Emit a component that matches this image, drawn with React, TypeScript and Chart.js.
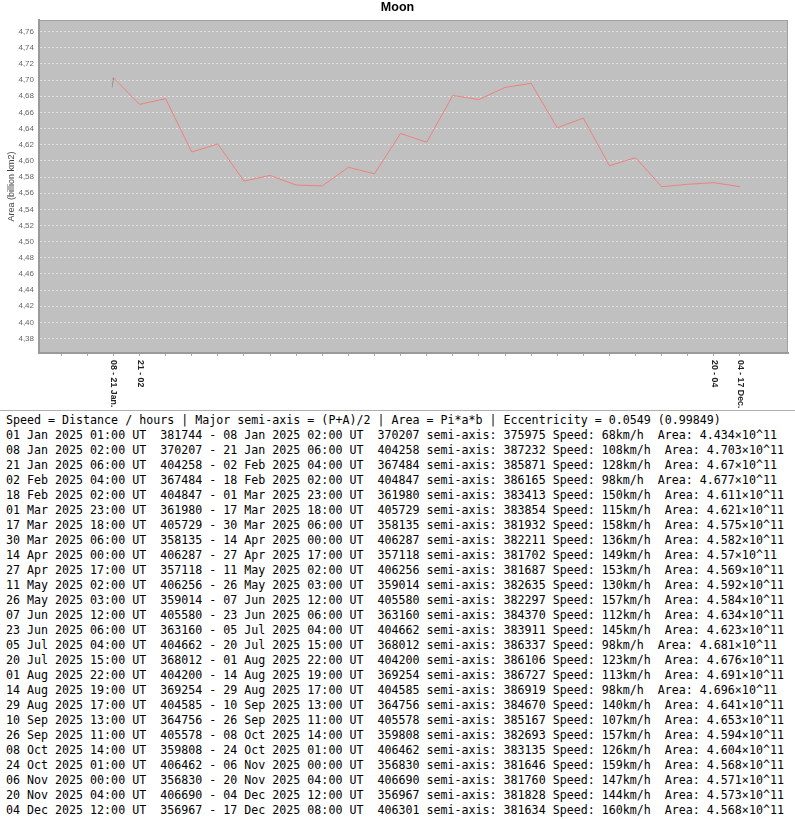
import React, { useEffect, useRef } from "react";
import { Chart, registerables } from "chart.js";

Chart.register(...registerables);

// ---- data ----
const dates = [
  "01 Jan 2025 01:00 UT", "08 Jan 2025 02:00 UT", "21 Jan 2025 06:00 UT", "02 Feb 2025 04:00 UT",
  "18 Feb 2025 02:00 UT", "01 Mar 2025 23:00 UT", "17 Mar 2025 18:00 UT", "30 Mar 2025 06:00 UT",
  "14 Apr 2025 00:00 UT", "27 Apr 2025 17:00 UT", "11 May 2025 02:00 UT", "26 May 2025 03:00 UT",
  "07 Jun 2025 12:00 UT", "23 Jun 2025 06:00 UT", "05 Jul 2025 04:00 UT", "20 Jul 2025 15:00 UT",
  "01 Aug 2025 22:00 UT", "14 Aug 2025 19:00 UT", "29 Aug 2025 17:00 UT", "10 Sep 2025 13:00 UT",
  "26 Sep 2025 11:00 UT", "08 Oct 2025 14:00 UT", "24 Oct 2025 01:00 UT", "06 Nov 2025 00:00 UT",
  "20 Nov 2025 04:00 UT", "04 Dec 2025 12:00 UT", "17 Dec 2025 08:00 UT",
];
const distances = [
  381744, 370207, 404258, 367484, 404847, 361980, 405729, 358135, 406287, 357118, 406256, 359014,
  405580, 363160, 404662, 368012, 404200, 369254, 404585, 364756, 405578, 359808, 406462, 356830,
  406690, 356967, 406301,
];
const semiAxes = [
  375975, 387232, 385871, 386165, 383413, 383854, 381932, 382211, 381702, 381687, 382635, 382297,
  384370, 383911, 386337, 386106, 386727, 386919, 384670, 385167, 382693, 383135, 381646, 381760,
  381828, 381634,
];
const speeds = [
  68, 108, 128, 98, 150, 115, 158, 136, 149, 153, 130, 157, 112, 145, 98, 123, 113, 98, 140, 107,
  157, 126, 159, 147, 144, 160,
];
const areas = [
  4.434, 4.703, 4.67, 4.677, 4.611, 4.621, 4.575, 4.582, 4.57, 4.569, 4.592, 4.584, 4.634, 4.623,
  4.681, 4.676, 4.691, 4.696, 4.641, 4.653, 4.594, 4.604, 4.568, 4.571, 4.573, 4.568,
];
const areaStrings = [
  "4.434", "4.703", "4.67", "4.677", "4.611", "4.621", "4.575", "4.582", "4.57", "4.569", "4.592",
  "4.584", "4.634", "4.623", "4.681", "4.676", "4.691", "4.696", "4.641", "4.653", "4.594", "4.604",
  "4.568", "4.571", "4.573", "4.568",
];
const xTickLabels = [
  "", "08 - 21 Jan.", "21 - 02", "", "", "", "", "", "", "", "", "", "", "", "", "", "", "", "", "",
  "", "", "", "", "20 - 04", "04 - 17 Dec.",
];
const xTickPositions = [
  -1, 0, 1, 2, 3, 4, 5, 6, 7, 8, 9, 10, 11, 12, 13, 14, 15, 16, 17, 18, 19, 20, 21, 22, 23, 24, 25,
];
const yTicks = [
  4.38, 4.4, 4.42, 4.44, 4.46, 4.48, 4.5, 4.52, 4.54, 4.56, 4.58, 4.6, 4.62, 4.64, 4.66, 4.68, 4.7,
  4.72, 4.74, 4.76,
];
const headerText =
  "Speed = Distance / hours | Major semi-axis = (P+A)/2 | Area = Pi*a*b | Eccentricity = 0.0549 (0.99849)";
const chartTitle = "Moon";
const yAxisTitle = "Area (billion km2)";

const rows = areas.map(
  (_, i) =>
    `${dates[i]}  ${distances[i]} - ${dates[i + 1]}  ${distances[i + 1]} semi-axis: ${semiAxes[i]} Speed: ${speeds[i]}km/h  Area: ${areaStrings[i]}\u00d710^11`
);

export default function App() {
  const canvasRef = useRef<HTMLCanvasElement | null>(null);

  useEffect(() => {
    document.body.style.margin = "0";
    document.documentElement.style.overflow = "hidden";
    const canvas = canvasRef.current!;
    const c2d = canvas.getContext("2d")!;

    const bgPlugin = {
      id: "bg",
      beforeDraw(chart: any) {
        const { ctx, chartArea: a } = chart;
        ctx.save();
        ctx.fillStyle = "#c0c0c0";
        ctx.fillRect(a.left, a.top, a.right - a.left, a.bottom - a.top);
        ctx.restore();
      },
      afterDraw(chart: any) {
        const { ctx, chartArea: a } = chart;
        ctx.save();
        ctx.strokeStyle = "#a0a0a0";
        ctx.lineWidth = 1;
        ctx.beginPath();
        ctx.moveTo(a.left, a.top + 0.5);
        ctx.lineTo(a.right - 0.5, a.top + 0.5);
        ctx.lineTo(a.right - 0.5, a.bottom);
        ctx.stroke();

        // title
        ctx.fillStyle = "#000";
        ctx.font = "bold 12.5px 'Liberation Sans', Arial, sans-serif";
        ctx.textAlign = "center";
        ctx.textBaseline = "middle";
        ctx.fillText(chartTitle, chart.width / 2, 8);

        // y title
        ctx.save();
        ctx.translate(12, (a.top + a.bottom) / 2);
        ctx.rotate(-Math.PI / 2);
        ctx.fillStyle = "#444";
        ctx.font = "9px 'Liberation Sans', Arial, sans-serif";
        ctx.textAlign = "center";
        ctx.textBaseline = "middle";
        ctx.fillText(yAxisTitle, 0, 0);
        ctx.restore();

        // x labels (rotated clockwise)
        const xs = chart.scales.x;
        ctx.fillStyle = "#222";
        ctx.font = "bold 8.8px 'Liberation Sans', Arial, sans-serif";
        ctx.textAlign = "left";
        ctx.textBaseline = "middle";
        xTickLabels.forEach((lab, i) => {
          if (!lab) return;
          const px = xs.getPixelForValue(i);
          ctx.save();
          ctx.translate(px + 0.5, 360);
          ctx.rotate(Math.PI / 2);
          ctx.fillText(lab, 0, 0);
          ctx.restore();
        });
        ctx.restore();
      },
    };

    const chart = new Chart(canvas, {
      type: "line",
      data: {
        datasets: [
          {
            data: areas.map((v, i) => ({ x: i, y: v })),
            borderColor: "#f08080",
            borderWidth: 1,
            pointRadius: 0,
            tension: 0,
            segment: {
              borderColor: (ctx: any) => {
                if (ctx.p0DataIndex !== 0) return undefined;
                const { p0, p1 } = ctx;
                const g = c2d.createLinearGradient(p1.x, p1.y, p0.x, p0.y);
                g.addColorStop(0, "rgba(120,105,105,0.8)");
                g.addColorStop(0.04, "rgba(120,105,105,0.4)");
                g.addColorStop(0.05, "rgba(120,105,105,0)");
                g.addColorStop(1, "rgba(120,105,105,0)");
                return g;
              },
            },
          } as any,
        ],
      },
      options: {
        animation: false,
        responsive: false,
        devicePixelRatio: 1,
        layout: { padding: { top: 20, right: 7, left: 0, bottom: 0 } },
        plugins: {
          legend: { display: false },
          tooltip: { enabled: false },
          title: { display: false },
        },
        scales: {
          x: {
            type: "linear",
            min: -1.85,
            max: 26.84,
            afterBuildTicks: (s: any) => {
              s.ticks = xTickPositions.map((v) => ({ value: v }));
            },
            afterFit: (s: any) => {
              s.height = 57;
            },
            grid: { drawOnChartArea: false, drawTicks: true, tickLength: 3, color: "#a8a8a8" },
            border: { display: true, color: "#9a9a9a", width: 2 },
            ticks: { display: false },
          },
          y: {
            type: "linear",
            min: 4.362,
            max: 4.7745,
            afterBuildTicks: (s: any) => {
              s.ticks = yTicks.map((v) => ({ value: v }));
            },
            afterFit: (s: any) => {
              s.width = 39;
            },
            grid: { color: "rgba(255,255,255,0.5)", drawTicks: false, lineWidth: 1 },
            border: { display: true, color: "#9a9a9a", width: 2, dash: [2, 2] },
            ticks: {
              padding: 5,
              color: "#666",
              font: { family: "'Liberation Sans', Arial, sans-serif", size: 8 },
              callback: (v: any) => Number(v).toFixed(2).replace(".", ","),
            },
          },
        },
      } as any,
      plugins: [bgPlugin],
    });
    return () => chart.destroy();
  }, []);

  return (
    <div style={{ width: 795, background: "#fff" }}>
      <canvas ref={canvasRef} width={795} height={410} style={{ display: "block", width: 795, height: 410 }} />
      <div
        style={{
          borderTop: "1px solid #b0b0b0",
          padding: "2px 0 0 6px",
          fontFamily: "'DejaVu Sans Mono', monospace",
          fontSize: "11.65px",
          lineHeight: "15px",
          whiteSpace: "pre",
          color: "#000",
        }}
      >
        {[headerText, ...rows].map((t, i) => (
          <div key={i}>{t}</div>
        ))}
      </div>
    </div>
  );
}
